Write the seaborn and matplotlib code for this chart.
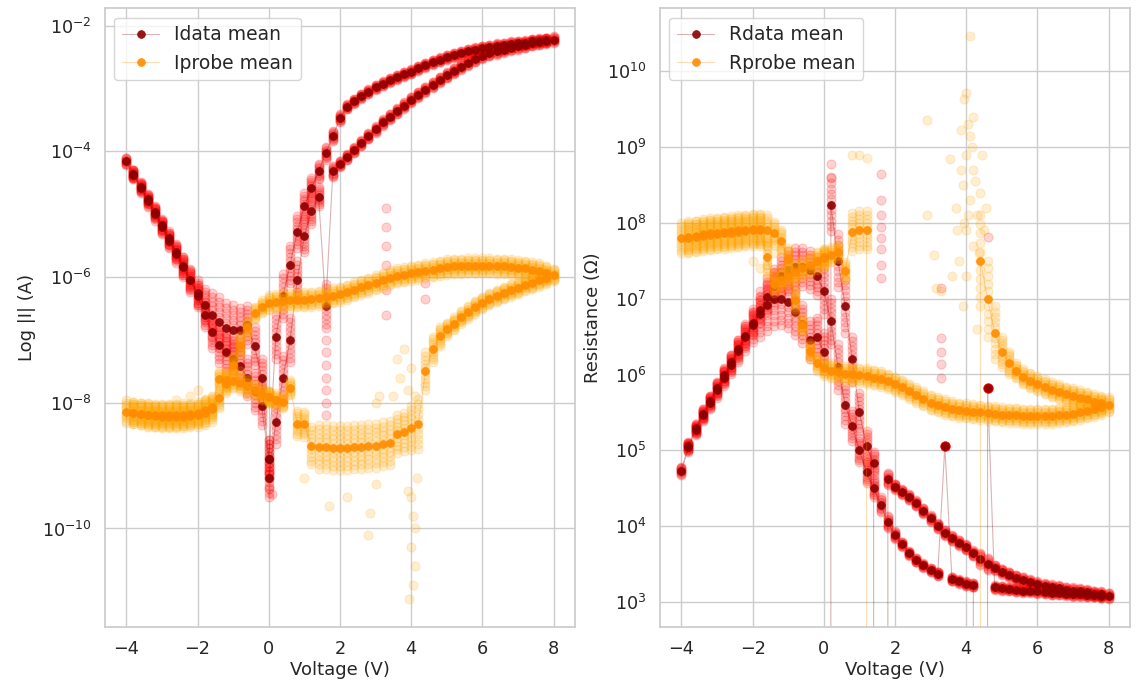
import numpy as np
import seaborn as sns
import matplotlib.pyplot as plt

# voltage sweep 0 -> 8 -> 0 -> -4 -> 0, 0.2 V step
up = np.round(np.arange(0, 8.01, 0.2), 1)
volt = np.concatenate([up, up[-2::-1], -up[1:21], -up[19::-1]])

# mean |I| (log10 A), one value per sweep point
idata_log = (
    [-9.2, -8.3, -7.6, -7.0, -6.05, -5.35, -4.95, -4.72, -6.46, -4.32, -4.2, -4.09, -3.98, -3.87,
     -3.76, -3.65, -3.54, -3.45, -3.36, -3.27, -3.18, -3.1, -3.02, -2.94, -2.86, -2.79, -2.72,
     -2.65, -2.59, -2.53, -2.48, -2.44, -2.41, -2.38, -2.35, -2.33, -2.31, -2.28, -2.26, -2.24, -2.22]
    + [-2.23, -2.24, -2.25, -2.27, -2.28, -2.29, -2.31, -2.32, -2.34, -2.36, -2.38, -2.41, -2.44,
       -2.47, -2.50, -2.54, -2.58, -2.63, -2.68, -2.73, -2.77, -2.82, -2.87, -2.92, -2.98, -3.05,
       -3.12, -3.2, -3.29, -3.47, -3.76, -4.03, -4.32, -4.58, -4.87, -5.28, -5.8, -6.3, -6.95, -8.9]
    + [-8.05, -7.82, -7.6, -7.42, -7.3, -7.2, -7.08, -6.88, -6.6, -6.3, -6.05, -5.82, -5.6, -5.38,
       -5.17, -4.96, -4.76, -4.56, -4.36, -4.16]
    + [-4.37, -4.58, -4.79, -5.0, -5.21, -5.42, -5.63, -5.84, -6.05, -6.25, -6.44, -6.6, -6.72,
       -6.81, -6.85, -6.84, -6.76, -7.1, -7.6, -8.9]
)
iprobe_log = (
    [-7.91, -7.95, -7.99, -7.76, -8.33, -8.34, -8.68, -8.7, -8.7, -8.72, -8.72, -8.72, -8.71, -8.7,
     -8.69, -8.68, -8.66, -8.64, -8.5, -8.46, -8.4, -8.34, -7.5, -7.15, -6.94, -6.83, -6.74, -6.64,
     -6.56, -6.48, -6.41, -6.35, -6.3, -6.25, -6.21, -6.17, -6.12, -6.09, -6.05, -6.01, -5.97]
    + [-5.94, -5.9, -5.88, -5.86, -5.85, -5.84, -5.83, -5.83, -5.82, -5.82, -5.82, -5.82, -5.83,
       -5.83, -5.84, -5.86, -5.88, -5.9, -5.92, -5.94, -5.96, -5.98, -6.01, -6.05, -6.09, -6.13,
       -6.16, -6.2, -6.24, -6.27, -6.3, -6.32, -6.34, -6.35, -6.36, -6.36, -6.37, -6.38, -6.39, -6.41]
    + [-6.47, -6.57, -6.8, -7.08, -7.4, -7.7, -7.93, -8.06, -8.12, -8.16, -8.18, -8.19, -8.2, -8.2,
       -8.2, -8.2, -8.19, -8.18, -8.16, -8.14]
    + [-8.16, -8.18, -8.2, -8.21, -8.22, -8.22, -8.22, -8.22, -8.21, -8.2, -8.17, -8.1, -7.62,
       -7.63, -7.65, -7.69, -7.74, -7.8, -7.86, -7.91]
)

# mean resistance (log10 ohm); None = negative mean, off the log axis
rdata_log = (
    [None, 8.24, 7.5, 6.9, 6.2, 5.5, 5.05, 4.83, None, 4.62, 4.52, 4.45, 4.38, 4.3, 4.2, 4.1, 4.0,
     3.91, 3.84, 3.78, 3.72, 3.64, 3.57, 3.5, 3.45, 3.4, 3.36, 3.32, 3.29, 3.26, 3.23, 3.21, 3.19,
     3.18, 3.16, 3.15, 3.14, 3.13, 3.11, 3.1, 3.08]
    + [3.08, 3.09, 3.09, 3.1, 3.1, 3.11, 3.12, 3.12, 3.13, 3.14, 3.15, 3.15, 3.16, 3.17, 3.18, 3.19,
       5.82, None, 3.22, 3.24, 3.27, 3.3, 5.05, 3.37, 3.42, 3.48, 3.55, 3.64, 3.76, 3.88, 4.05,
       4.28, 4.5, 4.71, 5.0, 5.32, 5.6, 6.1, 6.7, 7.1]
    + [7.3, 7.38, 7.42, 7.42, 7.38, 7.3, 7.17, 7.02, 6.85, 6.68, 6.51, 6.34, 6.16, 5.99, 5.82, 5.65,
       5.48, 5.29, 5.06, 4.73]
    + [5.04, 5.27, 5.46, 5.63, 5.79, 5.96, 6.13, 6.31, 6.49, 6.65, 6.8, 6.92, 6.99, 7.0, 6.96, 6.82,
       6.67, 6.45, 6.5, 6.3]
)
rprobe_log = (
    [7.55, 7.58, 7.62, 7.36, 7.88, 7.9, 7.9] + [None] * 15
    + [7.5, 7.0, 6.55, 6.3, 6.15, 6.05, 5.97, 5.92, 5.88, 5.84, 5.8, 5.77, 5.74, 5.72, 5.69, 5.67,
       5.64, 5.62, 5.6]
    + [5.57, 5.54, 5.52, 5.5, 5.48, 5.47, 5.46, 5.45, 5.45, 5.45, 5.45, 5.45, 5.46, 5.46, 5.47,
       5.48, 5.49, 5.5, 5.51, 5.52, 5.53, 5.55, 5.57, 5.6, 5.63, 5.68, 5.73, 5.78, 5.83, 5.87, 5.91,
       5.94, 5.96, 5.98, 5.99, 6.0, 6.01, 6.03, 6.05, 6.08]
    + [6.15, 6.31, 6.65, 6.98, 7.52, 7.76, 7.86, 7.9, 7.92, 7.92, 7.91, 7.9, 7.89, 7.88, 7.87, 7.86,
       7.85, 7.83, 7.82, 7.8]
    + [7.8, 7.82, 7.83, 7.84, 7.85, 7.86, 7.87, 7.88, 7.89, 7.9, 7.9, 7.55, 7.2, 7.25, 7.3, 7.35,
       7.4, 7.45, 7.5, 7.53]
)

# half width (decades) of the cloud of individual sweeps around each mean point
idata_spread = (
    [0.3, 0.35, 0.35, 0.35, 0.3, 0.25, 0.2, 0.15, 0.35, 0.08] + [0.05] * 31
    + [0.04] * 29 + [0.06, 0.08, 0.1, 0.12, 0.15, 0.2, 0.25, 0.3, 0.35, 0.35, 0.3]
    + [0.3] * 6 + [0.28, 0.25, 0.2, 0.18, 0.16, 0.14, 0.12, 0.11, 0.1, 0.09, 0.08, 0.07, 0.07, 0.06]
    + [0.07, 0.08, 0.09, 0.1, 0.11, 0.12, 0.14, 0.16, 0.18, 0.2, 0.25, 0.35, 0.4, 0.4, 0.4, 0.35,
       0.3, 0.3, 0.3, 0.3]
)
iprobe_spread = (
    [0.1, 0.1, 0.1, 0.12, 0.2, 0.2, 0.3] + [0.35] * 11 + [0.3, 0.3, 0.35, 0.4, 0.3, 0.2, 0.15]
    + [0.1] * 16
    + [0.12] * 40
    + [0.1, 0.1, 0.12, 0.15, 0.15, 0.15, 0.15, 0.15] + [0.18] * 12
    + [0.18] * 11 + [0.2, 0.12, 0.12, 0.12, 0.12, 0.12, 0.1, 0.1, 0.1]
)
rdata_spread = (
    [0.0, 0.35, 0.35, 0.35, 0.3, 0.25, 0.2, 0.15, 0.0, 0.08] + [0.04] * 12 + [0.08, 0.08]
    + [0.04] * 17
    + [0.03] * 16 + [0.0, 0.0] + [0.03] * 4 + [0.0] + [0.03] * 6
    + [0.05, 0.08, 0.1, 0.12, 0.14, 0.16, 0.2, 0.25, 0.3, 0.3, 0.3]
    + [0.25] * 6 + [0.22, 0.2, 0.17, 0.15, 0.13, 0.11, 0.1, 0.09, 0.08, 0.07, 0.06, 0.06, 0.05, 0.05]
    + [0.06, 0.07, 0.08, 0.09, 0.1, 0.11, 0.13, 0.15, 0.18, 0.22, 0.3, 0.35, 0.35, 0.35, 0.35, 0.3,
       0.25, 0.25, 0.25, 0.25]
)
rprobe_spread = (
    [0.1, 0.1, 0.1, 0.12, 0.25, 0.25, 0.25] + [0.0] * 15 + [0.6, 0.5, 0.35, 0.2, 0.15] + [0.1] * 14
    + [0.1] * 40
    + [0.1, 0.1, 0.1, 0.15, 0.15, 0.15, 0.15] + [0.2] * 13
    + [0.2] * 11 + [0.25, 0.12, 0.12, 0.12, 0.12, 0.12, 0.12, 0.12, 0.12]
)

# stray single-sweep points (V, log10 value)
idata_outliers = [(1.6, -7.0), (1.6, -7.2), (1.6, -7.4), (1.6, -7.6), (1.6, -7.8), (1.6, -8.0),
                  (1.6, -8.2), (3.3, -4.9), (3.3, -5.2), (3.3, -5.5), (3.3, -5.8), (3.3, -6.2),
                  (3.3, -6.6), (4.4, -6.1), (4.4, -6.35), (0.0, -9.35), (0.1, -9.45)]
iprobe_outliers = [(3.95, -11.12), (4.0, -9.5), (4.05, -9.8), (4.1, -10.0), (4.0, -10.3),
                   (4.1, -10.6), (4.05, -10.9), (4.15, -9.2), (3.9, -9.4), (2.8, -10.1),
                   (1.7, -9.65), (2.85, -9.75), (3.0, -9.3), (1.0, -9.2), (2.2, -9.5),
                   (3.6, -7.3), (3.7, -7.6), (3.8, -7.15), (3.9, -7.8), (4.0, -7.45), (4.1, -7.9),
                   (3.5, -7.9), (3.1, -7.9), (3.0, -8.0), (-1.8, -7.95), (-2.2, -7.9),
                   (-2.6, -7.95), (-2.0, -7.8), (-1.0, -7.3), (-0.8, -7.5)]
rdata_outliers = [(0.2, 8.78), (0.2, 8.6), (1.6, 8.64), (1.6, 8.3), (1.6, 8.1), (1.6, 7.95),
                  (1.6, 7.8), (1.6, 7.65), (1.6, 7.45), (1.6, 7.27), (3.3, 7.14), (3.3, 6.48),
                  (3.3, 6.3), (3.3, 6.14), (3.3, 5.96), (4.6, 7.82)]
rprobe_outliers = [(4.1, 10.46), (4.0, 9.71), (3.95, 9.64), (3.85, 9.23), (4.05, 9.3), (4.1, 9.15),
                   (3.55, 8.84), (4.0, 8.9), (4.2, 8.7), (3.9, 8.5), (4.1, 8.3), (4.3, 8.1),
                   (3.7, 8.2), (4.0, 7.9), (4.2, 7.7), (3.8, 7.5), (4.4, 8.4), (4.5, 7.9),
                   (3.6, 7.3), (2.9, 9.36), (2.9, 8.1), (3.1, 7.58), (3.15, 7.14), (3.3, 7.1),
                   (4.15, 9.0), (4.25, 8.55), (3.95, 8.0), (4.35, 7.6), (0.8, 8.9), (1.0, 8.9),
                   (1.2, 8.85), (-2.0, 7.5), (-1.8, 7.4), (-1.6, 7.45), (-1.4, 7.6), (-1.2, 7.4),
                   (4.0, 7.3), (3.9, 6.9), (4.3, 6.6), (4.05, 8.1), (3.85, 8.7), (4.2, 9.4),
                   (4.45, 8.9), (3.75, 7.9), (4.55, 8.2)]

# y tick decades shown on each panel
i_ticks = [1e-10, 1e-8, 1e-6, 1e-4, 1e-2]
r_ticks = [1e3, 1e4, 1e5, 1e6, 1e7, 1e8, 1e9, 1e10]

sns.set_theme(style="whitegrid")
plt.rcParams.update({"xtick.labelsize": 12.7, "ytick.labelsize": 12.7,
                     "axes.labelsize": 13, "legend.fontsize": 13.5})

offsets = np.linspace(-1, 1, 11)


def draw(ax, log_vals, spread, outliers, raw_color, mean_color, label, z):
    logs = np.array(log_vals, dtype=float)
    spread = np.array(spread)
    ok = ~np.isnan(logs)
    raw_v = np.repeat(volt[ok], len(offsets))
    raw_log = (logs[ok][:, None] + spread[ok][:, None] * offsets).ravel()
    out = np.array(outliers)
    raw_v = np.concatenate([raw_v, out[:, 0]])
    raw_log = np.concatenate([raw_log, out[:, 1]])
    sns.scatterplot(x=raw_v, y=10 ** raw_log, color=raw_color, alpha=0.18, s=42,
                    edgecolor=raw_color, linewidth=0.8, legend=False, ax=ax, zorder=z)
    mean = np.where(ok, 10 ** np.nan_to_num(logs), -1.0)
    sns.lineplot(x=volt, y=mean, sort=False, estimator=None, ax=ax, label=label,
                 color=mean_color + (0.3,), lw=0.8, marker="o", ms=5.6,
                 markerfacecolor=mean_color + (0.9,), markeredgecolor=mean_color + (0.9,),
                 markeredgewidth=0.5, zorder=z + 1)


darkred = (0.545, 0.0, 0.0)
darkorange = (1.0, 0.549, 0.0)

fig, axes = plt.subplots(1, 2, figsize=(11.36, 6.88), dpi=100)
fig.subplots_adjust(left=0.0924, right=0.9947, bottom=0.0887, top=0.988, wspace=0.181)

ax = axes[0]
draw(ax, idata_log, idata_spread, idata_outliers, "red", darkred, "Idata mean", 1)
draw(ax, iprobe_log, iprobe_spread, iprobe_outliers, "orange", darkorange, "Iprobe mean", 3)
ax.set_yscale("log")
ax.set_yticks(i_ticks)
ax.set_xlabel("Voltage (V)", labelpad=2)
ax.set_ylabel("Log |I| (A)")
ax.legend(loc="upper left")

ax = axes[1]
draw(ax, rdata_log, rdata_spread, rdata_outliers, "red", darkred, "Rdata mean", 1)
draw(ax, rprobe_log, rprobe_spread, rprobe_outliers, "orange", darkorange, "Rprobe mean", 3)
ax.set_yscale("log")
ax.set_yticks(r_ticks)
ax.set_xlabel("Voltage (V)", labelpad=2)
ax.set_ylabel("Resistance (Ω)")
ax.legend(loc="upper left")

fig.savefig("out.png", dpi=100)
